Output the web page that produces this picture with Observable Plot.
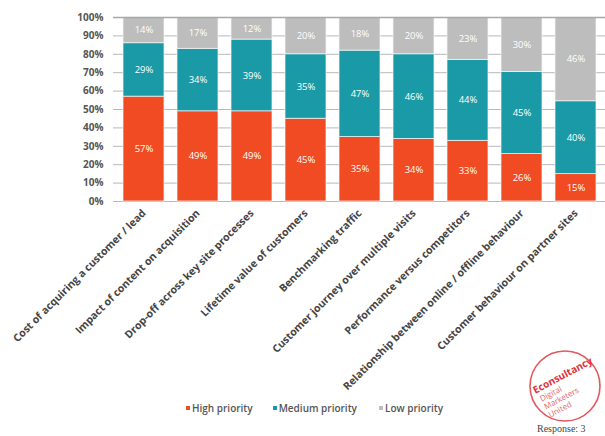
<!DOCTYPE html>
<html>
<head>
<meta charset="utf-8">
<script src="https://cdn.jsdelivr.net/npm/d3@7"></script>
<script src="https://cdn.jsdelivr.net/npm/@observablehq/plot@0.6"></script>
<style>
  html, body { margin: 0; padding: 0; background: #fff; width: 605px; height: 436px; overflow: hidden; position: relative; font-family: "Open Sans", sans-serif; }
  #chart { position: absolute; left: 0; top: 0; }
  #legend { position: absolute; top: 401px; left: 186px; display: flex; gap: 0; font-size: 10px; font-weight: 600; color: #555; }
  #legend .item { display: flex; align-items: center; }
  #legend .sw { width: 4px; height: 4px; margin-right: 2px; }
  #response { position: absolute; top: 423px; left: 537px; font-family: "Liberation Serif", serif; font-size: 10px; color: #444; white-space: nowrap; }
  #logo { position: absolute; left: 527px; top: 346px; }
</style>
</head>
<body>
<div id="chart"></div>
<div id="legend"></div>
<div id="response">Response: 3</div>
<svg id="logo" width="80" height="80" viewBox="0 0 80 80">
  <circle cx="38" cy="40" r="35" fill="none" stroke="#e4575e" stroke-width="1.6"/>
  <g transform="rotate(-28 38 40)" fill="#e0303a" font-family="Open Sans, sans-serif">
    <text x="8" y="33" font-size="10" font-weight="bold">Econsultancy</text>
    <text x="10" y="43" font-size="8" fill="#e36a6f">Digital</text>
    <text x="10" y="52" font-size="8" fill="#e36a6f">Marketers</text>
    <text x="10" y="61" font-size="8" fill="#e36a6f">United</text>
  </g>
</svg>
<script>
const categories = [
  "Cost of acquiring a customer / lead",
  "Impact of content on acquisition",
  "Drop-off across key site processes",
  "Lifetime value of customers",
  "Benchmarking traffic",
  "Customer journey over multiple visits",
  "Performance versus competitors",
  "Relationship between online / offline behaviour",
  "Customer behaviour on partner sites"
];
const priorities = ["High priority", "Medium priority", "Low priority"];
const highPriority = [57, 49, 49, 45, 35, 34, 33, 26, 15];
const mediumPriority = [29, 34, 39, 35, 47, 46, 44, 45, 40];
const lowPriority = [14, 17, 12, 20, 18, 20, 23, 30, 46];
const colors = ["#f04b22", "#1a9aa6", "#bdbdbd"];
const yTicks = [0, 10, 20, 30, 40, 50, 60, 70, 80, 90, 100];
const legendGaps = [20, 22, 0];

const series = [highPriority, mediumPriority, lowPriority];
const rows = categories.flatMap((c, i) =>
  priorities.map((p, j) => ({ cat: c, pr: p, v: series[j][i] }))
);

const stackOpts = { offset: "normalize", order: priorities };

const chart = Plot.plot({
  width: 605,
  height: 394,
  marginLeft: 113,
  marginRight: 0,
  marginTop: 17,
  marginBottom: 193,
  style: { fontFamily: "Open Sans, sans-serif", background: "white" },
  x: { domain: categories, paddingInner: 0.25, paddingOuter: 0.17, label: null },
  y: { domain: [0, 1], label: null },
  color: { domain: priorities, range: colors },
  marks: [
    Plot.ruleY(yTicks.map(d => d / 100), { stroke: "#b8b8b8", strokeWidth: 1 }),
    Plot.barY(rows, Plot.stackY(stackOpts, {
      x: "cat", y: "v", fill: "pr", stroke: "#f4f8f8", strokeWidth: 0.7
    })),
    Plot.ruleY([1], { stroke: "#a8a8a8", strokeWidth: 1.5 }),
    Plot.text(rows, Plot.stackY(stackOpts, {
      x: "cat", y: "v", z: "pr", text: d => d.v + "%", fill: "white", fontSize: 9.5
    })),
    Plot.axisY(yTicks.map(d => d / 100), {
      tickSize: 0, tickPadding: 10, tickFormat: d => Math.round(d * 100) + "%",
      fontSize: 10, fontWeight: "bold", fill: "#555", label: null
    }),
    Plot.axisX({
      tickSize: 0, tickPadding: 10, tickRotate: -45, fontSize: 10.5, fontWeight: "bold",
      fill: "#444", label: null
    })
  ]
});
document.getElementById("chart").appendChild(chart);

const legend = document.getElementById("legend");
priorities.forEach((p, i) => {
  const item = document.createElement("div");
  item.className = "item";
  item.style.marginRight = legendGaps[i] + "px";
  const sw = document.createElement("span");
  sw.className = "sw";
  sw.style.background = colors[i];
  item.appendChild(sw);
  const t = document.createElement("span");
  t.textContent = p;
  item.appendChild(t);
  legend.appendChild(item);
});
</script>
</body>
</html>
